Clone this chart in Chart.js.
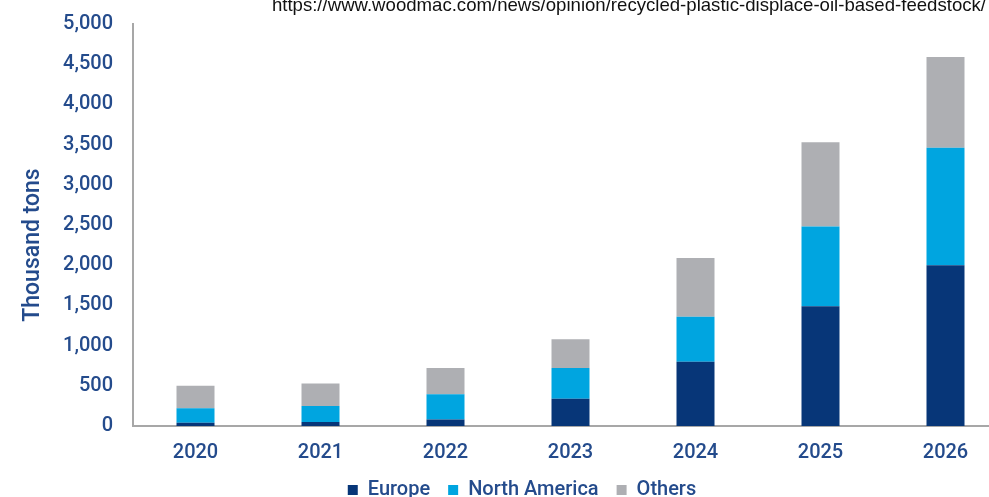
<!DOCTYPE html>
<html>
<head>
<meta charset="utf-8">
<script src="https://cdn.jsdelivr.net/npm/chart.js@4.4.1/dist/chart.umd.min.js"></script>
<style>
  html, body { margin: 0; padding: 0; background: #fff; overflow: hidden; width: 989px; height: 497px; }
  #wrap { position: relative; width: 989px; height: 497px; overflow: hidden; }
  #src {
    position: absolute; right: 3px; top: -4.5px;
    font: 18.6px/18.6px "Liberation Sans", Arial, sans-serif; color: #111;
    white-space: nowrap;
  }
  canvas { position: absolute; left: 0; top: 0; }
</style>
</head>
<body>
<div id="wrap">
  <canvas id="chart" width="1010" height="510"></canvas>
  <div id="src">https://www.woodmac.com/news/opinion/recycled-plastic-displace-oil-based-feedstock/</div>
</div>
<script>
const years = ['2020', '2021', '2022', '2023', '2024', '2025', '2026'];
const europe = [40, 50, 80, 340, 800, 1490, 2000];
const northAmerica = [180, 200, 315, 380, 560, 990, 1460];
const others = [280, 280, 325, 360, 730, 1050, 1130];

const textBlue = '#244b8c';
const axisGrey = '#a7a7a7';
const font = { family: 'Roboto, "Liberation Sans", sans-serif', size: 20, weight: '500' };

new Chart(document.getElementById('chart'), {
  type: 'bar',
  data: {
    labels: years,
    datasets: [
      { label: 'Europe', data: europe, backgroundColor: '#073678', borderWidth: 0 },
      { label: 'North America', data: northAmerica, backgroundColor: '#00a5e0', borderWidth: 0 },
      { label: 'Others', data: others, backgroundColor: '#aeafb3', borderWidth: 0 },
    ],
  },
  options: {
    responsive: false,
    animation: false,
    layout: { padding: { left: 36, right: 2, top: 13, bottom: 0 } },
    datasets: { bar: { categoryPercentage: 1, barPercentage: 0.304 } },
    plugins: {
      legend: {
        position: 'bottom',
        labels: { color: textBlue, font, boxWidth: 10, boxHeight: 10, padding: 18 },
      },
      tooltip: { enabled: false },
    },
    scales: {
      x: {
        stacked: true,
        grid: { display: false },
        border: { display: true, color: axisGrey, width: 2 },
        ticks: { color: textBlue, font, padding: 7 },
        afterFit: (scale) => { scale.height = 36; },
      },
      y: {
        stacked: true,
        min: 0,
        max: 5000,
        grid: { display: false },
        border: { display: true, color: axisGrey, width: 2 },
        ticks: {
          stepSize: 500,
          color: textBlue,
          font,
          padding: 12,
          callback: (v) => Number(v).toLocaleString('en-US'),
        },
        title: {
          display: true,
          text: 'Thousand tons       ',
          color: textBlue,
          font: { ...font, size: 23 },
          padding: { top: -17, bottom: 0 },
        },
        afterFit: (scale) => { scale.width = 97; },
      },
    },
  },
});
</script>
</body>
</html>
